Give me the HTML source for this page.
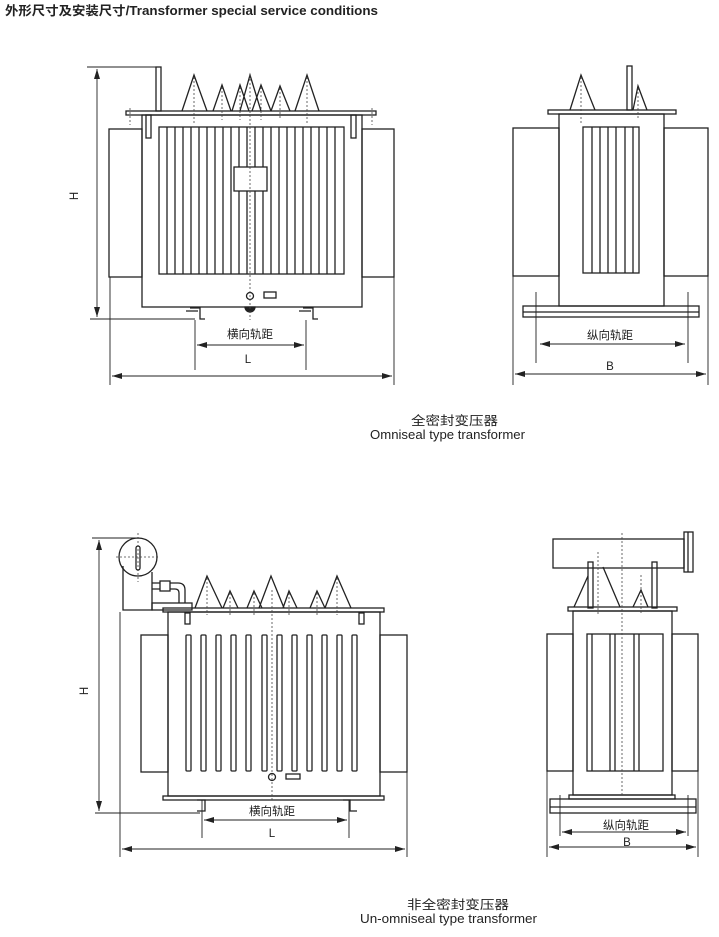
<!DOCTYPE html>
<html><head><meta charset="utf-8"><style>
html,body{margin:0;padding:0;background:#fff;}
svg{display:block}
text{font-family:"Liberation Sans","Noto Sans CJK SC",sans-serif;fill:#222}
</style></head><body>
<svg width="719" height="937" viewBox="0 0 719 937" xmlns="http://www.w3.org/2000/svg">
<defs>
<marker id="a" viewBox="0 0 10 6" refX="10" refY="3" markerWidth="10" markerHeight="6" orient="auto-start-reverse" markerUnits="userSpaceOnUse"><path d="M0,0 L10,3 L0,6 z" fill="#222"/></marker>
</defs>
<text x="5" y="15" font-size="12.5" font-weight="bold" textLength="373" lengthAdjust="spacingAndGlyphs">外形尺寸及安装尺寸/Transformer special service conditions</text>

<g fill="none" stroke="#222" stroke-width="1.3">
<!-- ===== Top-left ===== -->
<rect x="156" y="67" width="5" height="44"/>
<rect x="126" y="111" width="250" height="4"/>
<rect x="142" y="115" width="220" height="192"/>
<rect x="109" y="129" width="33" height="148"/>
<rect x="362" y="129" width="32" height="148"/>
<rect x="159" y="127" width="185" height="147"/>
<path d="M167,127V274M175,127V274M183,127V274M191,127V274M199,127V274M207,127V274M215,127V274M223,127V274M231,127V274M239,127V274M247,127V274M255,127V274M263,127V274M271,127V274M279,127V274M287,127V274M295,127V274M303,127V274M311,127V274M319,127V274M327,127V274M335,127V274"/>
<rect x="234" y="167" width="33" height="24" fill="#fff"/>
<rect x="146" y="115" width="5" height="23"/>
<rect x="351" y="115" width="5" height="23"/>
<path d="M182,111L194,75L207,111M213,111L222,85L231,111M232,111L240,85L249,111M240,111L250,75L261,111M252,111L261,85L271,111M271,111L280,86L290,111M295,111L307,75L319,111"/>
<circle cx="250" cy="296" r="3.5" fill="#fff"/>
<rect x="264" y="292" width="12" height="6"/>
<path d="M245,307a5,5 0 0 0 10,0z" fill="#222"/>
<path d="M190,308h10v11h5M186,311h12M303,308h10v11h5M299,311h12" />
<!-- dims -->
<path d="M87,67H160M90,319H195" stroke-width="0.9"/>
<path d="M97,69V317" stroke-width="0.9" marker-start="url(#a)" marker-end="url(#a)"/>
<path d="M195,320V370M306,320V370M110,277V385M394,277V385" stroke-width="0.9"/>
<path d="M197,345H304" stroke-width="0.9" marker-start="url(#a)" marker-end="url(#a)"/>
<path d="M112,376H392" stroke-width="0.9" marker-start="url(#a)" marker-end="url(#a)"/>

<!-- ===== Top-right ===== -->
<rect x="548" y="110" width="128" height="4"/>
<rect x="559" y="114" width="105" height="192"/>
<rect x="513" y="128" width="46" height="148"/>
<rect x="664" y="128" width="44" height="148"/>
<rect x="583" y="127" width="56" height="146"/>
<path d="M592,127V273M600,127V273M608,127V273M616,127V273M625,127V273M633,127V273"/>
<rect x="523" y="306" width="176" height="11"/>
<path d="M523,312H699"/>
<path d="M570,110L581,75L595,110M633,110L638,86L647,110"/>
<rect x="627" y="66" width="5" height="44"/>
<path d="M536,292V363M688,292V363M513,276V385M708,276V385" stroke-width="0.9"/>
<path d="M540,344H685" stroke-width="0.9" marker-start="url(#a)" marker-end="url(#a)"/>
<path d="M515,374H706" stroke-width="0.9" marker-start="url(#a)" marker-end="url(#a)"/>

<!-- ===== Bottom-left ===== -->
<circle cx="138" cy="557" r="19"/>
<rect x="136" y="546" width="4" height="24" rx="2"/>
<path d="M123,566V610H152V572"/>
<path d="M152,583H178q7,0 7,7V603M152,589H175q4,0 4,4V603"/>
<rect x="160" y="581" width="10" height="10" fill="#fff"/>
<rect x="152" y="603" width="40" height="7"/>
<rect x="163" y="608" width="221" height="4"/>
<rect x="168" y="612" width="212" height="184"/>
<rect x="163" y="796" width="221" height="4"/>
<rect x="141" y="635" width="27" height="137"/>
<rect x="380" y="635" width="27" height="137"/>
<g>
<rect x="186" y="635" width="5" height="136" rx="1"/><rect x="201" y="635" width="5" height="136" rx="1"/><rect x="216" y="635" width="5" height="136" rx="1"/><rect x="231" y="635" width="5" height="136" rx="1"/><rect x="246" y="635" width="5" height="136" rx="1"/><rect x="262" y="635" width="5" height="136" rx="1"/><rect x="277" y="635" width="5" height="136" rx="1"/><rect x="292" y="635" width="5" height="136" rx="1"/><rect x="307" y="635" width="5" height="136" rx="1"/><rect x="322" y="635" width="5" height="136" rx="1"/><rect x="337" y="635" width="5" height="136" rx="1"/><rect x="352" y="635" width="5" height="136" rx="1"/>
</g>
<rect x="185" y="613" width="5" height="11"/>
<rect x="359" y="613" width="5" height="11"/>
<circle cx="272" cy="777" r="3.5"/>
<rect x="286" y="774" width="14" height="5"/>
<path d="M195,608L207,576L222,608M223,608L230,591L238,608M247,608L254,591L262,608M259,608L271,576L284,608M283,608L289,591L297,608M310,608L317,591L325,608M325,608L337,576L351,608"/>
<path d="M197,800h8v11h-8M343,800h7v11h7"/>
<path d="M92,538H138M95,813H200" stroke-width="0.9"/>
<path d="M99,540V811" stroke-width="0.9" marker-start="url(#a)" marker-end="url(#a)"/>
<path d="M202,800V838M349,800V838M120,612V857M407,772V857" stroke-width="0.9"/>
<path d="M204,820H347" stroke-width="0.9" marker-start="url(#a)" marker-end="url(#a)"/>
<path d="M122,849H405" stroke-width="0.9" marker-start="url(#a)" marker-end="url(#a)"/>

<!-- ===== Bottom-right ===== -->
<rect x="553" y="539" width="131" height="29"/>
<rect x="684" y="532" width="9" height="40"/>
<path d="M688,532V572"/>
<rect x="588" y="562" width="5" height="46"/>
<rect x="652" y="562" width="5" height="46"/>
<path d="M588,576L574,607M603,567L620,607M633,607L641,590L648,607"/>
<rect x="568" y="607" width="109" height="4"/>
<rect x="573" y="611" width="99" height="184"/>
<rect x="547" y="634" width="26" height="137"/>
<rect x="672" y="634" width="26" height="137"/>
<rect x="587" y="634" width="76" height="137"/>
<path d="M592,634V771M610,634V771M615,634V771M634,634V771M639,634V771"/>
<rect x="569" y="795" width="106" height="4"/>
<rect x="550" y="799" width="146" height="14"/>
<path d="M550,807H696"/>
<path d="M560,795V836M688,795V836M547,771V857M698,771V857" stroke-width="0.9"/>
<path d="M562,832H686" stroke-width="0.9" marker-start="url(#a)" marker-end="url(#a)"/>
<path d="M549,847H696" stroke-width="0.9" marker-start="url(#a)" marker-end="url(#a)"/>
</g>

<!-- dashed centerlines -->
<g stroke="#444" stroke-width="0.8" stroke-dasharray="2,2" fill="none">
<path d="M250,75V320M194,77V125M222,87V120M240,87V120M261,87V120M280,88V120M307,77V125M130,108V125M372,108V125"/>
<path d="M581,77V125M638,88V120"/>
<path d="M138,533V582M116,557H160M272,590V800M207,578V615M230,593V615M254,593V615M289,593V615M317,593V615M337,578V615"/>
<path d="M622,533V795M598,552V616M641,575V615"/>
</g>

<g font-size="11.5">
<text x="250" y="338" text-anchor="middle">横向轨距</text>
<text x="248" y="363" text-anchor="middle">L</text>
<text x="610" y="339" text-anchor="middle">纵向轨距</text>
<text x="610" y="370" text-anchor="middle">B</text>
<text x="272" y="815" text-anchor="middle">横向轨距</text>
<text x="272" y="837" text-anchor="middle">L</text>
<text x="626" y="829" text-anchor="middle">纵向轨距</text>
<text x="627" y="846" text-anchor="middle">B</text>
<text x="78" y="196" transform="rotate(-90 78 196)" text-anchor="middle">H</text>
<text x="88" y="691" transform="rotate(-90 88 691)" text-anchor="middle">H</text>
</g>
<g font-size="12.5">
<text x="411" y="425" textLength="87" lengthAdjust="spacingAndGlyphs">全密封变压器</text>
<text x="370" y="439" textLength="155" lengthAdjust="spacingAndGlyphs">Omniseal type transformer</text>
<text x="407" y="909" textLength="102" lengthAdjust="spacingAndGlyphs">非全密封变压器</text>
<text x="360" y="923" textLength="177" lengthAdjust="spacingAndGlyphs">Un-omniseal type transformer</text>
</g>
</svg>
</body></html>
